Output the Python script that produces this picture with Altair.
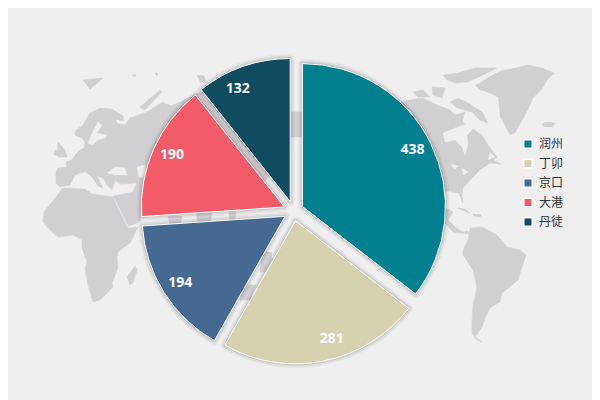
import math
import altair as alt
import pandas as pd

W, H = 584, 392
MARGIN = 8
BG = "#efefef"
LAND = "#d1cfd1"

CITIES = ["润州", "丁卯", "京口", "大港", "丹徒"]
VALUES = [438, 281, 194, 190, 132]
COLORS = ["#028090", "#d6d1af", "#456990", "#f45b69", "#114b5f"]
LABEL_ANGLE = [62.6, 163.0, 237.6, 295.0, 335.0]
CENTER = (293.5, 211.0)
EXPLODE = 10
RADIUS = 143
LABEL_R = 124

LAND_SHAPES = [
    # Eurasia
    [(56,172),(58,168),(67,167),(66,162),(72,160),(76,154),(80,150),(84,148),(85,142),(82,138),(75,135),(75,131),
     (83,125),(90,113),(100,108),(112,109),(123,116),(124,121),(115,119),(118,124),(125,125),(130,118),(147,112),
     (158,105),(163,102),(171,106),(180,102),(200,92),(250,100),(291,112),(303,112),(303,137),(291,137),(270,175),
     (250,200),(150,212),(141,214),(140,222),(128,226),(116,201),(113,196),(133,192),(137,183),(120,184),(115,180),
     (112,190),(107,185),(103,178),(97,176),(103,188),(98,186),(92,177),(86,172),(80,173),(75,175),(70,185),(60,187),(56,183)],
    # Africa
    [(44,212),(55,198),(63,188),(85,189),(92,194),(113,197),(115,202),(125,223),(128,228),(138,227),(130,243),(118,252),
     (117,258),(118,268),(112,283),(113,287),(100,300),(93,302),(88,285),(85,268),(87,262),(82,248),(82,240),(73,235),
     (58,237),(50,230),(43,222)],
    # Madagascar
    [(130,285),(127,277),(135,266),(137,270),(133,283)],
    # British Isles, Svalbard, Arctic islands
    [(58,142),(65,150),(67,157),(58,157)],
    [(55,150),(60,150),(58,156),(54,155)],
    [(83,80),(103,78),(95,85),(90,89)],
    [(140,107),(160,90),(162,92),(145,110)],
    [(132,75),(136,74),(135,77)],
    [(155,73),(158,73),(157,76)],
    [(197,75),(204,76),(207,83),(200,82)],
    # Asia and Australia seen in the gaps
    [(168,216),(182,216),(180,226),(170,226)],
    [(196,212),(212,212),(210,224),(198,224)],
    [(229,212),(236,212),(235,222),(230,222)],
    [(262,252),(272,252),(270,272),(260,272)],
    [(243,285),(256,285),(250,300),(240,300)],
    # North America
    [(385,105),(410,100),(423,98),(437,105),(450,110),(455,115),(465,112),(462,122),(473,129),(482,135),(488,145),
     (497,157),(493,160),(501,164),(490,163),(480,170),(472,178),(463,188),(462,195),(463,203),(459,193),(447,191),
     (420,210),(395,150)],
    # Central America, Caribbean
    [(440,205),(453,212),(448,220),(455,227),(463,232),(467,231),(470,234),(453,232),(445,223)],
    [(458,208),(465,209),(470,213),(464,211)],
    [(473,214),(481,215),(480,217),(474,216)],
    # South America
    [(470,228),(482,227),(497,235),(507,247),(520,250),(526,255),(520,273),(518,280),(502,293),(500,302),(490,308),
     (485,318),(482,327),(475,337),(482,342),(477,340),(472,333),(472,323),(473,305),(477,288),(473,270),(463,255),
     (463,250),(468,240)],
    # Canadian islands
    [(443,75),(458,73),(475,68),(497,68),(483,75),(468,82),(455,83),(447,80)],
    [(450,102),(458,98),(468,103),(482,112),(488,123),(480,120),(472,112),(457,108)],
    [(413,92),(423,90),(430,97),(418,97)],
    [(432,87),(445,88),(442,98),(433,95)],
]

# Greenland and Iceland as top and bottom edges along x
GREEN_X = [475, 480, 487, 498, 500, 503, 510, 515, 527, 528, 533, 543, 547, 555]
GREEN_TOP = [85, 83, 78, 72, 71.5, 70, 69, 68, 65, 65, 66, 68, 70, 73]
GREEN_BOTTOM = [85, 90, 92, 97, 117, 122, 135, 133, 112, 110, 98, 88, 80, 73]
ICE_X = [542, 545, 552, 555]
ICE_TOP = [124, 122, 122, 123]
ICE_BOTTOM = [125, 127, 127, 124]

SEA_SHAPES = [
    [(98,122),(102,125),(97,133),(107,135),(105,138),(98,140),(92,145),(88,143),(92,133)],
    [(107,173),(115,167),(125,168),(127,175),(115,175)],
    [(137,167),(145,165),(146,178),(139,177)],
    [(443,133),(445,142),(455,140),(462,147),(465,155),(468,145),(467,135),(475,127),(466,124),(455,128)],
    [(450,164),(458,166),(455,169)],
    [(462,168),(468,172),(463,175)],
    [(490,152),(495,157),(488,160)],
]


def features(shapes):
    out = []
    for s in shapes:
        ring = [[x - MARGIN, y - MARGIN] for x, y in s]
        ring.append(ring[0])
        out.append({"type": "Feature", "properties": {},
                    "geometry": {"type": "Polygon", "coordinates": [ring]}})
    return out


total = sum(VALUES)
rows, acc = [], 0
for i, (c, v) in enumerate(zip(CITIES, VALUES)):
    mid = (acc + v / 2) / total * 2 * math.pi
    cx = CENTER[0] - MARGIN + EXPLODE * math.sin(mid)
    cy = CENTER[1] - MARGIN - EXPLODE * math.cos(mid)
    a = math.radians(LABEL_ANGLE[i])
    rows.append({"city": c, "value": v, "start": acc, "end": acc + v, "cx": cx, "cy": cy,
                 "lx": cx + LABEL_R * math.sin(a), "ly": cy - LABEL_R * math.cos(a)})
    acc += v
df = pd.DataFrame(rows)

land = alt.Chart(alt.Data(values=features(LAND_SHAPES))).mark_geoshape(
    fill=LAND, stroke=LAND, strokeWidth=0.5).project(type="identity", scale=1, translate=[0, 0])
sea = alt.Chart(alt.Data(values=features(SEA_SHAPES))).mark_geoshape(
    fill=BG, stroke=BG, strokeWidth=0.3).project(type="identity", scale=1, translate=[0, 0])

xs = alt.Scale(domain=[0, W], range=[0, W])
ys = alt.Scale(domain=[0, H], range=[0, H])
ts = alt.Scale(domain=[0, total], range=[0, 2 * math.pi])
arc_enc = dict(
    x=alt.X("cx:Q", scale=xs, axis=None),
    y=alt.Y("cy:Q", scale=ys, axis=None),
    theta=alt.Theta("start:Q", scale=ts),
    theta2=alt.Theta2("end:Q"),
)


def edge_area(xv, top, bottom):
    d = pd.DataFrame({"x": [v - MARGIN for v in xv], "t": [v - MARGIN for v in top], "b": [v - MARGIN for v in bottom]})
    return alt.Chart(d).mark_area(color=LAND, opacity=1).encode(
        x=alt.X("x:Q", scale=xs, axis=None),
        y=alt.Y("t:Q", scale=ys, axis=None),
        y2=alt.Y2("b:Q"),
    )


def shadow(width, opacity):
    return alt.Chart(df).mark_arc(radius=RADIUS, fillOpacity=0, stroke="#000000", strokeWidth=width,
                                  strokeOpacity=opacity, strokeJoin="round").encode(**arc_enc)


sectors = alt.Chart(df).mark_arc(radius=RADIUS, stroke="#ffffff", strokeWidth=1).encode(
    color=alt.Color("city:N", scale=alt.Scale(domain=CITIES, range=COLORS), sort=CITIES,
                    legend=alt.Legend(title=None, orient="none", legendX=514, legendY=130, symbolType="square",
                                      symbolSize=70, symbolStrokeColor="#ffffff", symbolStrokeWidth=1.5,
                                      labelFont="Noto Sans CJK SC", labelFontSize=12, labelColor="#333333",
                                      labelOffset=5, rowPadding=3.5)),
    **arc_enc,
)

labels = alt.Chart(df).mark_text(font="Open Sans", fontWeight="bold", fontSize=14, color="#ffffff").encode(
    x=alt.X("lx:Q", scale=xs, axis=None),
    y=alt.Y("ly:Q", scale=ys, axis=None),
    text=alt.Text("value:Q"),
)

chart = alt.layer(land, sea, edge_area(GREEN_X, GREEN_TOP, GREEN_BOTTOM), edge_area(ICE_X, ICE_TOP, ICE_BOTTOM),
                  shadow(9, 0.035), shadow(6, 0.05), shadow(3, 0.07), sectors, labels).properties(
    width=W, height=H, background=BG, padding=0,
    autosize=alt.AutoSizeParams(type="none"),
).configure_view(stroke=None)

chart.save("out.html", embed_options={"renderer": "svg", "actions": False})
